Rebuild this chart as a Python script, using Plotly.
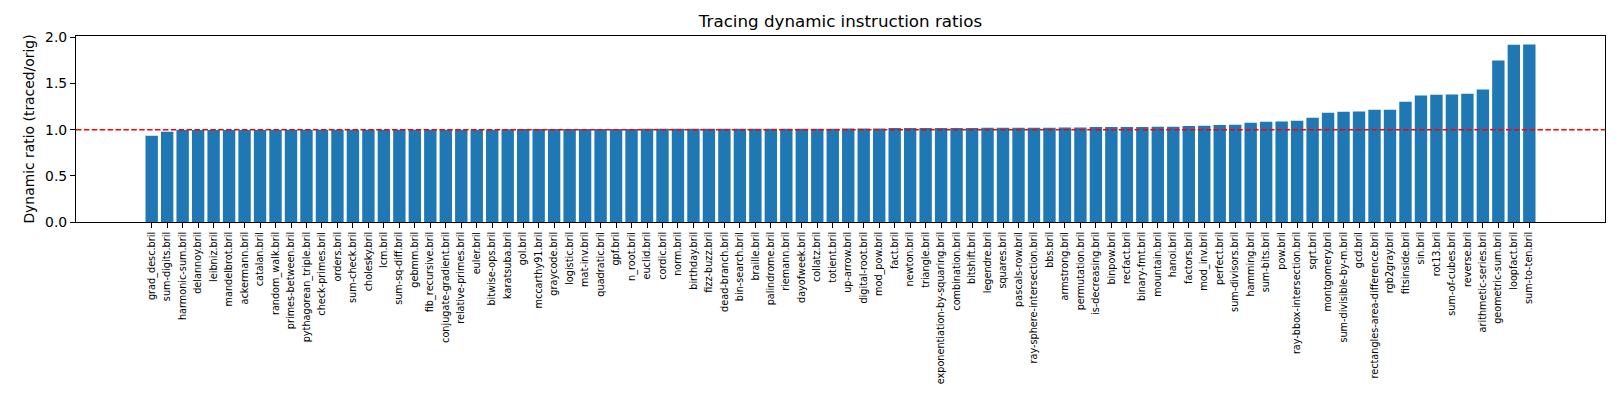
import plotly.graph_objects as go

benchmarks = [
    "grad_desc.bril", "sum-digits.bril", "harmonic-sum.bril", "delannoy.bril",
    "leibniz.bril", "mandelbrot.bril", "ackermann.bril", "catalan.bril",
    "random_walk.bril", "primes-between.bril", "pythagorean_triple.bril",
    "check-primes.bril", "orders.bril", "sum-check.bril", "cholesky.bril",
    "lcm.bril", "sum-sq-diff.bril", "gebmm.bril", "fib_recursive.bril",
    "conjugate-gradient.bril", "relative-primes.bril", "euler.bril",
    "bitwise-ops.bril", "karatsuba.bril", "gol.bril", "mccarthy91.bril",
    "graycode.bril", "logistic.bril", "mat-inv.bril", "quadratic.bril",
    "gpf.bril", "n_root.bril", "euclid.bril", "cordic.bril", "norm.bril",
    "birthday.bril", "fizz-buzz.bril", "dead-branch.bril", "bin-search.bril",
    "braille.bril", "palindrome.bril", "riemann.bril", "dayofweek.bril",
    "collatz.bril", "totient.bril", "up-arrow.bril", "digital-root.bril",
    "mod_pow.bril", "fact.bril", "newton.bril", "triangle.bril",
    "exponentiation-by-squaring.bril", "combination.bril", "bitshift.bril",
    "legendre.bril", "squares.bril", "pascals-row.bril",
    "ray-sphere-intersection.bril", "bbs.bril", "armstrong.bril",
    "permutation.bril", "is-decreasing.bril", "binpow.bril", "recfact.bril",
    "binary-fmt.bril", "mountain.bril", "hanoi.bril", "factors.bril",
    "mod_inv.bril", "perfect.bril", "sum-divisors.bril", "hamming.bril",
    "sum-bits.bril", "pow.bril", "ray-bbox-intersection.bril", "sqrt.bril",
    "montgomery.bril", "sum-divisible-by-m.bril", "gcd.bril",
    "rectangles-area-difference.bril", "rgb2gray.bril", "fitsinside.bril",
    "sin.bril", "rot13.bril", "sum-of-cubes.bril", "reverse.bril",
    "arithmetic-series.bril", "geometric-sum.bril", "loopfact.bril",
    "sum-to-ten.bril",
]

# traced / original dynamic instruction counts
ratios = [
    0.935, 0.978, 0.996, 0.997, 0.997, 0.998, 0.998, 0.998, 0.999, 0.999,
    0.999, 0.999, 0.999, 1.0, 1.0, 1.0, 1.0, 1.0, 1.0, 1.0,
    1.0, 1.0, 1.0, 1.006, 1.007, 1.007, 1.008, 1.008, 1.008, 1.009,
    1.009, 1.009, 1.01, 1.01, 1.01, 1.01, 1.01, 1.011, 1.011, 1.011,
    1.011, 1.012, 1.012, 1.012, 1.012, 1.013, 1.013, 1.014, 1.018, 1.019,
    1.019, 1.02, 1.02, 1.02, 1.021, 1.021, 1.021, 1.022, 1.022, 1.023,
    1.024, 1.03, 1.03, 1.031, 1.031, 1.032, 1.033, 1.04, 1.042, 1.052,
    1.054, 1.076, 1.086, 1.088, 1.098, 1.13, 1.185, 1.195, 1.197, 1.216,
    1.218, 1.304, 1.37, 1.38, 1.382, 1.39, 1.435, 1.75, 1.922, 1.924,
]

yticks = [0.0, 0.5, 1.0, 1.5, 2.0]

fig = go.Figure(
    go.Bar(
        x=benchmarks,
        y=ratios,
        marker=dict(color="#1f77b4", line=dict(width=0)),
    )
)

# baseline at ratio 1.0
fig.add_shape(
    type="line", xref="paper", yref="y", x0=0, x1=1, y0=1.0, y1=1.0,
    line=dict(color="red", width=1.5, dash="5.5px,2.4px"),
)

# page body has an 8px margin, so the figure is a bit smaller than the window
fig.update_layout(
    width=1604,
    height=384,
    margin=dict(l=68, r=7, t=28, b=170),
    plot_bgcolor="white",
    paper_bgcolor="white",
    font=dict(family="DejaVu Sans", color="black"),
    bargap=0.2,
    showlegend=False,
    title=dict(
        text="Tracing dynamic instruction ratios",
        x=0.5, xref="paper", xanchor="center",
        y=1 - 13.5 / 384, yref="container", yanchor="middle",
        font=dict(size=16.7),
    ),
    xaxis=dict(
        type="category",
        range=[-4.89, 93.89],
        tickangle=-90,
        tickfont=dict(size=9.7),
        ticks="outside", ticklen=5, tickwidth=1.1, tickcolor="black",
        showline=True, linecolor="black", linewidth=1.1, mirror=True,
        showgrid=False, zeroline=False,
    ),
    yaxis=dict(
        range=[0, 2.016],
        tickmode="array",
        tickvals=yticks,
        tickformat=".1f",
        tickfont=dict(size=13.9),
        ticks="outside", ticklen=5, tickwidth=1.1, tickcolor="black",
        showline=True, linecolor="black", linewidth=1.1, mirror=True,
        showgrid=False, zeroline=False,
        title=dict(text="Dynamic ratio (traced/orig)", font=dict(size=13.9), standoff=7),
    ),
)

fig.write_html("out.html")
